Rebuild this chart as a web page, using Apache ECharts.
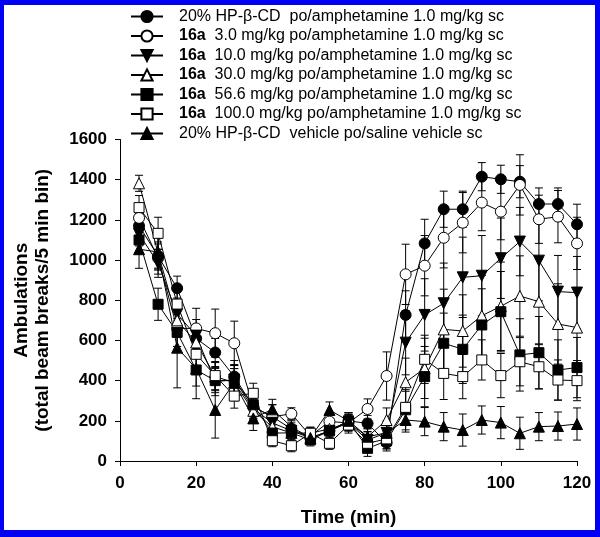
<!DOCTYPE html>
<html>
<head>
<meta charset="utf-8">
<script src="https://cdn.jsdelivr.net/npm/echarts@6/dist/echarts.min.js"></script>
<style>
html,body{margin:0;padding:0;background:#fff;}
#wrap{position:relative;width:600px;height:537px;}
#chart{position:absolute;left:0;top:0;width:600px;height:537px;}
#frame{position:absolute;left:0;top:0;width:600px;height:537px;box-sizing:border-box;
  border-left:4px solid #0000f4;border-top:5px solid #0000f4;border-right:5px solid #0000f4;border-bottom:7px solid #0000f4;pointer-events:none;}
</style>
</head>
<body>
<div id="wrap"><div id="chart"></div><div id="frame"></div></div>
<script>
// time points (min)
const times = [5,10,15,20,25,30,35,40,45,50,55,60,65,70,75,80,85,90,95,100,105,110,115,120];

const seriesNames = [
  '20% HP-\u03b2-CD  po/amphetamine 1.0 mg/kg sc',
  '16a 3.0 mg/kg po/amphetamine 1.0 mg/kg sc',
  '16a 10.0 mg/kg po/amphetamine 1.0 mg/kg sc',
  '16a 30.0 mg/kg po/amphetamine 1.0 mg/kg sc',
  '16a 56.6 mg/kg po/amphetamine 1.0 mg/kg sc',
  '16a 100.0 mg/kg po/amphetamine 1.0 mg/kg sc',
  '20% HP-\u03b2-CD  vehicle po/saline vehicle sc'
];

// mean ambulations
const vehAmph   = [1170,1020,860,610,540,420,270,220,160,115,150,200,187,91,727,1083,1253,1253,1415,1402,1390,1279,1279,1178];
const d3Amph    = [1210,1010,660,660,636,586,270,220,235,125,196,190,259,423,929,972,1111,1186,1286,1241,1374,1203,1216,1083];
const d10Amph   = [1130,984,731,624,395,405,260,190,150,115,150,190,105,140,589,727,785,914,922,1009,1092,997,843,838];
const d30Amph   = [1382,1035,700,590,420,390,250,170,140,138,160,190,120,204,392,461,655,647,723,770,821,793,682,664];
const d56Amph   = [1100,780,640,453,400,400,280,139,140,105,150,200,63,100,255,420,586,556,677,743,528,539,453,465];
const d100Amph  = [1261,1133,781,531,425,323,337,101,76,138,88,179,88,110,267,506,436,420,503,425,494,469,403,400];
const vehSaline = [1054,1040,564,460,254,390,212,257,170,115,254,200,121,140,204,196,171,154,204,191,138,171,174,184];

// SEM
const vehAmphErr   = [60,60,60,70,70,80,50,60,40,30,40,40,40,30,120,120,90,90,70,70,80,80,80,100];
const d3AmphErr    = [70,80,90,100,120,110,60,60,30,30,40,40,50,120,150,150,150,150,140,140,150,120,130,130];
const d10AmphErr   = [60,70,80,80,70,70,50,50,40,30,40,40,40,60,160,180,200,200,200,200,170,200,180,180];
const d30AmphErr   = [40,80,80,80,70,70,50,40,40,30,40,40,40,60,120,150,200,180,200,220,200,210,200,200];
const d56AmphErr   = [60,80,70,80,60,60,50,40,40,30,40,40,40,50,100,150,150,170,180,200,180,180,150,150];
const d100AmphErr  = [60,80,80,80,70,60,50,30,30,30,30,40,30,50,80,120,130,110,100,110,120,110,100,100];
const vehSalineErr = [95,90,200,150,140,90,60,50,40,30,40,40,40,50,60,70,70,80,70,80,80,70,70,80];

// tick labels
const xTicks = [0,20,40,60,80,100,120];
const yTicks = [0,200,400,600,800,1000,1200,1400,1600];

const means = [vehAmph,d3Amph,d10Amph,d30Amph,d56Amph,d100Amph,vehSaline];
const errs  = [vehAmphErr,d3AmphErr,d10AmphErr,d30AmphErr,d56AmphErr,d100AmphErr,vehSalineErr];
const markers = [
  {symbol:'circle',  fill:'#000', rot:0},
  {symbol:'circle',  fill:'#fff', rot:0},
  {symbol:'triangle',fill:'#000', rot:180},
  {symbol:'triangle',fill:'#fff', rot:0},
  {symbol:'rect',    fill:'#000', rot:0},
  {symbol:'rect',    fill:'#fff', rot:0},
  {symbol:'triangle',fill:'#000', rot:0}
];

function errRender(params, api){
  const x = api.value(0), lo = api.value(1), hi = api.value(2);
  const a = api.coord([x, hi]), b = api.coord([x, lo]);
  const w = 4;
  const st = {stroke:'#000', lineWidth:1};
  return {type:'group', children:[
    {type:'line', shape:{x1:a[0],y1:a[1],x2:b[0],y2:b[1]}, style:st},
    {type:'line', shape:{x1:a[0]-w,y1:a[1],x2:a[0]+w,y2:a[1]}, style:st},
    {type:'line', shape:{x1:b[0]-w,y1:b[1],x2:b[0]+w,y2:b[1]}, style:st}
  ]};
}

const series = [];
means.forEach((m,i)=>{
  series.push({
    type:'custom', name:'err'+i, renderItem:errRender, z:1,
    encode:{x:0,y:[1,2]},
    data: times.map((t,j)=>[t, m[j]-errs[i][j], m[j]+errs[i][j]])
  });
});
means.forEach((m,i)=>{
  const mk = markers[i];
  series.push({
    type:'line', name:seriesNames[i], z:3,
    data: times.map((t,j)=>[t, m[j]]),
    symbol: mk.symbol, symbolSize: mk.symbol==='rect'?10:11, symbolRotate: mk.rot,
    lineStyle:{color:'#000', width:1},
    itemStyle:{color:mk.fill, borderColor:'#000', borderWidth:1, opacity:1},
    emphasis:{disabled:true}, animation:false
  });
});

const chart = echarts.init(document.getElementById('chart'), null, {renderer:'canvas'});
chart.setOption({
  animation:false,
  backgroundColor:'#fff',
  grid:{left:120, right:23, top:139.5, bottom:76},
  legend:{
    data: seriesNames,
    orient:'vertical', left:130, top:8.5, padding:0,
    itemWidth:32, itemHeight:14, itemGap:3.5,
    iconRotate:'inherit',
    selectedMode:false,
    textStyle:{fontFamily:'Liberation Sans, Arial', fontSize:16, color:'#000', lineHeight:14, padding:[0,0,0,11],
      rich:{b:{fontFamily:'Liberation Sans, Arial', fontWeight:'bold', fontSize:16, color:'#000', lineHeight:14},
            n:{fontFamily:'Liberation Sans, Arial', fontSize:16, color:'#000', lineHeight:14}}},
    formatter: function(name){
      if (name.indexOf('16a ')===0) return '{b|16a}{n|  ' + name.slice(4) + '}';
      return name;
    }
  },
  xAxis:{
    type:'value', min:0, max:120, interval:20,
    name:'Time (min)', nameLocation:'middle', nameGap:47,
    nameTextStyle:{fontFamily:'Liberation Sans, Arial', fontWeight:'bold', fontSize:19, color:'#000'},
    axisLine:{lineStyle:{color:'#000', width:1}},
    axisTick:{show:true, length:5, lineStyle:{color:'#000'}},
    axisLabel:{margin:14, fontFamily:'Liberation Sans, Arial', fontWeight:'bold', fontSize:17, color:'#000',
      formatter:(v)=> xTicks.indexOf(v)>=0 ? String(v) : ''},
    splitLine:{show:false}
  },
  yAxis:{
    type:'value', min:0, max:1600, interval:200,
    name:'Ambulations\n(total beam breaks/5 min bin)', nameLocation:'middle', nameGap:67, nameRotate:90,
    nameTextStyle:{fontFamily:'Liberation Sans, Arial', fontWeight:'bold', fontSize:19, color:'#000', lineHeight:21, align:'center'},
    axisLine:{show:true, lineStyle:{color:'#000', width:1}},
    axisTick:{show:true, length:5, lineStyle:{color:'#000'}},
    axisLabel:{margin:13, fontFamily:'Liberation Sans, Arial', fontWeight:'bold', fontSize:17, color:'#000',
      formatter:(v)=> yTicks.indexOf(v)>=0 ? String(v) : ''},
    splitLine:{show:false}
  },
  series: series
});
</script>
</body>
</html>
